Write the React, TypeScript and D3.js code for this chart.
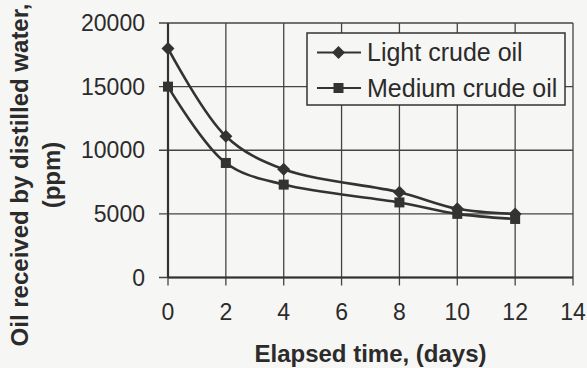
import React from "react";
import * as d3 from "d3";

const days = [0, 2, 4, 8, 10, 12];
const lightCrude = [18000, 11100, 8500, 6700, 5400, 5000];
const mediumCrude = [15000, 9000, 7300, 5900, 5000, 4600];
const xTicks = [0, 2, 4, 6, 8, 10, 12, 14];
const yTicks = [0, 5000, 10000, 15000, 20000];
const seriesNames = ["Light crude oil", "Medium crude oil"];

const W = 587;
const H = 368;
const INK = "#2b2b2b";
const FONT = "'Liberation Sans', Arial, sans-serif";

export default function App() {
  const x = d3.scaleLinear().domain([0, 14]).range([168, 573]);
  const y = d3.scaleLinear().domain([0, 20000]).range([277.5, 23]);
  const line = d3
    .line<number>()
    .x((_, i) => x(days[i]))
    .y((v) => y(v))
    .curve(d3.curveCatmullRom.alpha(0.5));

  const diamond = (cx: number, cy: number, r: number) =>
    `M${cx},${cy - r}L${cx + r},${cy}L${cx},${cy + r}L${cx - r},${cy}Z`;

  return (
    <svg
      width={W}
      height={H}
      style={{ position: "absolute", left: 0, top: 0, background: "#f6f6f4" }}
      fontFamily={FONT}
    >
      <rect x={0} y={0} width={W} height={H} fill="#f6f6f4" />
      {/* grid */}
      {xTicks.map((t) => (
        <line key={"gx" + t} x1={x(t)} x2={x(t)} y1={y(20000)} y2={y(0) + 8} stroke="#444" strokeWidth={1.3} />
      ))}
      {yTicks.map((t) => (
        <line key={"gy" + t} x1={x(0) - 9} x2={x(14)} y1={y(t)} y2={y(t)} stroke="#444" strokeWidth={1.3} />
      ))}
      <line x1={x(0)} x2={x(14)} y1={y(0)} y2={y(0)} stroke="#333" strokeWidth={2.2} />
      <line x1={x(0)} x2={x(0)} y1={y(0)} y2={y(20000)} stroke="#333" strokeWidth={2.2} />

      {/* tick labels */}
      {xTicks.map((t) => (
        <text key={"tx" + t} x={x(t)} y={320} textAnchor="middle" fontSize={23} fill={INK}>
          {t}
        </text>
      ))}
      {yTicks.map((t) => (
        <text key={"ty" + t} x={145} y={y(t) + 8} textAnchor="end" fontSize={23} fill={INK}>
          {t}
        </text>
      ))}

      {/* series */}
      <path d={line(lightCrude) || ""} fill="none" stroke="#333" strokeWidth={2.6} />
      <path d={line(mediumCrude) || ""} fill="none" stroke="#333" strokeWidth={2.6} />
      {lightCrude.map((v, i) => (
        <path key={"l" + i} d={diamond(x(days[i]), y(v), 6.5)} fill="#333" />
      ))}
      {mediumCrude.map((v, i) => (
        <rect key={"m" + i} x={x(days[i]) - 5} y={y(v) - 5} width={10} height={10} fill="#333" />
      ))}

      {/* legend */}
      <rect x={307} y={33} width={258} height={72} fill="#f6f6f4" stroke="#333" strokeWidth={1.5} />
      <line x1={317} x2={361} y1={52.5} y2={52.5} stroke="#333" strokeWidth={2} />
      <path d={diamond(338.5, 52.5, 6.5)} fill="#333" />
      <text x={367} y={61} fontSize={25} fill={INK}>{seriesNames[0]}</text>
      <line x1={317} x2={361} y1={88} y2={88} stroke="#333" strokeWidth={2} />
      <rect x={333.5} y={83} width={10} height={10} fill="#333" />
      <text x={367} y={97} fontSize={25} fill={INK}>{seriesNames[1]}</text>

      {/* axis titles */}
      <text x={370.5} y={362} textAnchor="middle" fontSize={24} fontWeight="bold" fill={INK}>
        Elapsed time, (days)
      </text>
      <g transform="translate(0,175) rotate(-90)">
        <text x={0} y={28} textAnchor="middle" fontSize={24} fontWeight="bold" fill={INK}>
          Oil received by distilled water,
        </text>
        <text x={0} y={60} textAnchor="middle" fontSize={24} fontWeight="bold" fill={INK}>
          (ppm)
        </text>
      </g>
    </svg>
  );
}
